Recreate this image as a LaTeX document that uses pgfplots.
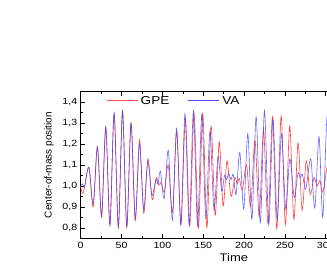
\documentclass[border=0pt]{standalone}
\usepackage{pgfplots}
\pgfplotsset{compat=1.18}
\usepackage{fontspec}
\setmainfont[FakeStretch=1.18]{Liberation Sans}
\newfontfamily\ylabfont{Liberation Sans}

\pgfplotstableread{
t y
0 1.000
3 0.965
10 1.090
15.3 0.900
20.5 1.185
25.6 0.850
30.7 1.275
35.8 0.810
40.9 1.345
46.1 0.800
51.2 1.355
56.4 0.800
61.6 1.300
66.8 0.835
72.0 1.220
77.2 0.870
82.3 1.130
87.6 0.935
92.5 1.040
95.5 1.005
98.5 1.015
102.3 0.970
107.2 1.100
112.4 0.875
117.6 1.260
122.8 0.820
128.2 1.320
133.5 0.810
138.8 1.345
144.1 0.800
149.4 1.345
154.5 0.800
159.6 1.285
164.7 0.860
169.6 1.210
174.4 0.905
179.1 1.120
184.0 0.950
188.8 1.040
191.6 1.010
194.2 1.035
197.8 0.980
203.0 1.100
208.1 0.900
213.3 1.220
218.6 0.855
223.8 1.270
229.3 0.820
234.8 1.330
240.1 0.795
245.4 1.335
250.6 0.815
255.9 1.285
261.0 0.840
266.1 1.205
271.1 0.885
276.1 1.120
281.0 0.960
285.8 1.040
289.5 1.000
292.8 1.025
296.5 0.970
302.0 1.100
306.0 1.150
}\gpe

\pgfplotstableread{
t y
0 1.000
2.5 1.010
4.8 0.995
10 1.090
15.3 0.915
20.5 1.190
25.6 0.860
30.7 1.285
35.8 0.815
40.9 1.350
46.1 0.805
51.2 1.360
56.4 0.810
61.6 1.300
66.8 0.845
72.0 1.200
77.1 0.890
82.1 1.115
87.2 0.955
92.0 1.030
94.6 1.010
97.6 1.070
102.2 0.940
107.2 1.170
112.3 0.835
117.4 1.275
122.6 0.810
127.7 1.345
132.9 0.810
138.0 1.360
143.1 0.810
148.2 1.340
153.2 0.845
158.2 1.260
163.2 0.885
168.1 1.140
172.6 0.975
176.0 1.050
178.6 1.030
181.2 1.060
184.0 1.030
186.8 1.055
190.2 0.960
194.8 1.160
199.6 0.890
204.6 1.250
209.6 0.840
214.8 1.330
219.9 0.825
225.0 1.360
230.3 0.815
235.4 1.320
240.6 0.840
245.8 1.250
251.0 0.890
256.1 1.130
261.4 0.945
266.0 1.060
268.8 1.040
271.4 1.055
275.6 0.985
281.6 1.130
286.6 0.895
291.8 1.235
296.3 0.850
301.5 1.330
306.0 1.250
}\va

\begin{document}
\begin{tikzpicture}
\begin{axis}[
  at={(80.7pt,34.7pt)}, anchor=south west,
  scale only axis, width=306.3pt, height=146.6pt,
  xmin=0, xmax=375, ymin=0.75, ymax=1.45,
  xtick={0,50,...,350}, minor x tick num=1,
  ytick={0.8,0.9,1.0,1.1,1.2,1.3,1.4}, minor y tick num=1,
  tick align=inside,
  major tick length=4pt, minor tick length=2pt,
  axis line style={line width=0.8pt},
  every tick/.style={black, line width=0.6pt},
  tick label style={font=\fontsize{9}{10}\selectfont},
  /pgf/number format/assume math mode=true,
  yticklabel style={/pgf/number format/.cd, use comma, fixed, fixed zerofill, precision=1},
  xlabel={Time},
  xlabel style={font=\fontsize{11}{12}\selectfont, at={(axis description cs:0.5,-0.134)}, anchor=center},
  ylabel={Center-of-mass position},
  ylabel style={font=\ylabfont\fontsize{10}{11}\selectfont, at={(axis description cs:-0.1035,0.5)}, anchor=center},
  legend style={at={(axis description cs:0.0826,0.937)}, anchor=west, draw=none, fill=none,
    font=\fontsize{11.5}{12}\selectfont, inner sep=0pt,
    nodes={inner sep=2.5pt},
    /tikz/every even column/.append style={column sep=16pt}},
  legend columns=2,
  legend image code/.code={\draw[#1] (0pt,0pt) -- (31pt,0pt);},
]
\addlegendimage{color=red!70!white, line width=1pt}
\addlegendentry{GPE}
\addlegendimage{color=blue!70!white, line width=1pt}
\addlegendentry{VA}
\addplot[red!75!white, line width=0.6pt, smooth, forget plot] table[x=t,y=y] {\gpe};
\addplot[blue!75!white, line width=0.6pt, smooth, opacity=0.8, forget plot] table[x=t,y=y] {\va};
\end{axis}
\pgfresetboundingbox
\path[use as bounding box] (0,0) rectangle (327pt,273pt);
\end{tikzpicture}
\end{document}
